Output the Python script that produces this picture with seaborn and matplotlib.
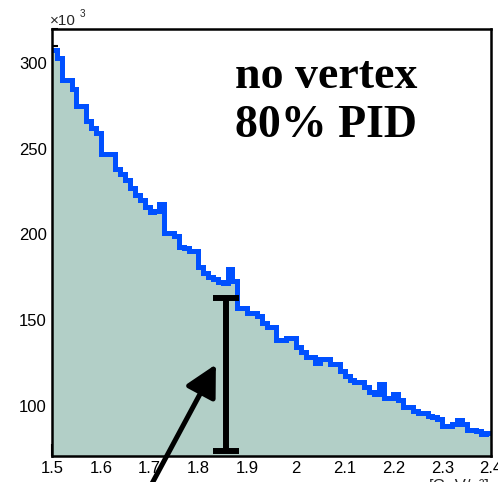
import numpy as np
import pandas as pd
import matplotlib
matplotlib.use("Agg")
import matplotlib.pyplot as plt
from matplotlib.ticker import MultipleLocator, FixedLocator, FixedFormatter
import seaborn as sns

# ---- histogram content -------------------------------------------------
x_lo, x_hi = 1.5, 2.4
# entries per 10 MeV bin, in units of 10^3
entries_k = [
    308, 303, 290, 290, 285, 275, 275, 266, 262, 259,
    247, 247, 247, 238, 235, 232, 227, 223, 220, 216,
    213, 213.4, 217.5, 201, 201, 199, 192.5, 192, 190, 190,
    181, 177.6, 175, 174, 172, 171.5, 180, 173, 157, 157,
    154, 154, 152.5, 148, 145.6, 145.6, 138, 138, 139.7, 139.7,
    134, 131.5, 128.6, 128.6, 124.6, 127, 127, 124, 124, 120,
    117, 114.7, 113.5, 113.5, 111, 108, 107, 112.5, 104.4, 104.4,
    106.5, 103, 99, 99, 97, 95.4, 95.4, 94, 93, 92,
    88, 87.8, 89, 91.6, 89, 85.5, 85.5, 85, 83.1, 84,
]
x_tick_values = [1.5, 1.6, 1.7, 1.8, 1.9, 2.0, 2.1, 2.2, 2.3, 2.4]
x_tick_labels = ["1.5", "1.6", "1.7", "1.8", "1.9", "2", "2.1", "2.2", "2.3", "2.4"]
y_tick_values = [100, 150, 200, 250, 300]
y_tick_labels = ["100", "150", "200", "250", "300"]

# signal-height marker and pointer
bar_x, bar_lo, bar_hi = 1.857, 73.4, 162.6
arrow_tip = (1.836, 124.0)
arrow_tail = (1.691, 47.0)

n_bins = len(entries_k)
edges = [round(float(e), 5) for e in np.linspace(x_lo, x_hi, n_bins + 1)]
centers = [0.5 * (a + b) for a, b in zip(edges[:-1], edges[1:])]
df = pd.DataFrame({"mass": centers, "entries": entries_k})

fill_color = "#b2cfc7"
line_color = "#0050ff"

sns.set_theme(style="ticks")
plt.rcParams["font.family"] = ["Liberation Sans", "DejaVu Sans"]

W, H = 498, 482
fig = plt.figure(figsize=(W / 100, H / 100), dpi=100)
fig.patch.set_facecolor("white")
ax = fig.add_axes([52 / W, 1 - 456 / H, (491 - 52) / W, (456 - 29) / H])
ax.set_facecolor("white")

sns.histplot(data=df, x="mass", weights="entries", bins=edges,
             element="step", fill=True, color=fill_color, alpha=1,
             linewidth=0, ax=ax)
sns.histplot(data=df, x="mass", weights="entries", bins=edges,
             element="step", fill=False, color=line_color,
             linewidth=3.6, ax=ax)
for ln in ax.lines:
    ln.set_solid_joinstyle("miter")

ax.set_xlim(x_lo, x_hi)
ax.set_ylim(70.5, 320)
ax.set_xlabel("")
ax.set_ylabel("")

ax.xaxis.set_major_locator(FixedLocator(x_tick_values))
ax.xaxis.set_major_formatter(FixedFormatter(x_tick_labels))
ax.xaxis.set_minor_locator(MultipleLocator(0.02))
ax.yaxis.set_major_locator(FixedLocator(y_tick_values))
ax.yaxis.set_major_formatter(FixedFormatter(y_tick_labels))
ax.yaxis.set_minor_locator(MultipleLocator(10))

ax.tick_params(which="both", direction="in", top=False, right=False,
               color="black", width=1.5)
ax.tick_params(which="major", length=8.6, labelsize=12, pad=3.6,
               labelcolor="black")
ax.tick_params(which="minor", length=4.3)

for side in ["left", "right", "top", "bottom"]:
    ax.spines[side].set_visible(True)
    ax.spines[side].set_color("black")
    ax.spines[side].set_linewidth(1.8)
    ax.spines[side].set_zorder(5)

# error bar marking the peak height
ax.errorbar([bar_x], [(bar_lo + bar_hi) / 2], yerr=[(bar_hi - bar_lo) / 2],
            fmt="none", ecolor="black", elinewidth=4.3, capsize=9.7,
            capthick=4.3, zorder=6)

ax.annotate("", xy=arrow_tip, xytext=arrow_tail, xycoords="data",
            textcoords="data", annotation_clip=False,
            arrowprops=dict(arrowstyle="-|>,head_length=0.95,head_width=0.5",
                            lw=3.6, color="black", mutation_scale=20,
                            shrinkA=0, shrinkB=0))

# text block
serif = ["Liberation Serif", "DejaVu Serif"]
fig.text(235 / W, 1 - 88.3 / H, "no vertex", family=serif, weight="bold",
         fontsize=33, va="baseline", ha="left", color="black")
fig.text(235 / W, 1 - 137.3 / H, "80% PID", family=serif, weight="bold",
         fontsize=33, va="baseline", ha="left", color="black")

# axis multiplier
fig.text(50 / W, 1 - 25 / H, "×10", fontsize=11, va="baseline", ha="left")
fig.text(79.5 / W, 1 - 16.7 / H, "3", fontsize=7.2, va="baseline", ha="left")

# x-axis unit label at the lower edge
fig.text(490 / W, 1 - 491 / H, "[GeV/c²]", fontsize=12, va="baseline",
         ha="right")

fig.savefig("out.png", dpi=100, facecolor="white")
